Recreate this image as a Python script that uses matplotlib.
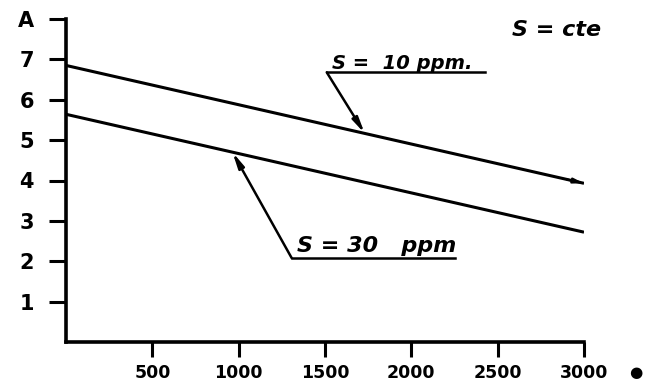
import numpy as np
import matplotlib.pyplot as plt

# data
theta = [0, 3000]
a_10ppm = [6.85, 3.93]
a_30ppm = [5.64, 2.72]
x_ticks = [500, 1000, 1500, 2000, 2500, 3000]
x_labels = ['500', '1000', '1500', '2000', '2500', '3000']
y_ticks = [1, 2, 3, 4, 5, 6, 7, 8]
y_labels = ['1', '2', '3', '4', '5', '6', '7', 'A']

plt.rcParams['font.family'] = ['DejaVu Sans']

fig = plt.figure(figsize=(6.63, 3.83), dpi=100)
ax = fig.add_axes([66 / 663, 41 / 383, 518 / 663, 323 / 383])

lw = 2.2
ax.plot(theta, a_10ppm, color='k', lw=lw, solid_capstyle='butt')
ax.plot(theta, a_30ppm, color='k', lw=lw, solid_capstyle='butt')

ax.set_xlim(0, 3000)
ax.set_ylim(0, 8)

for s in ['top', 'right']:
    ax.spines[s].set_visible(False)
for s in ['left', 'bottom']:
    ax.spines[s].set_linewidth(2.6)

ax.set_xticks(x_ticks)
ax.set_xticklabels(x_labels, fontsize=12.5, fontweight='heavy')
ax.set_yticks(y_ticks)
ax.set_yticklabels(y_labels, fontsize=15, fontweight='heavy')
ax.tick_params(axis='x', direction='out', length=11, width=2.2, pad=5)
ax.tick_params(axis='y', direction='out', length=12, width=2.2, pad=11)
# the short inner tick at 6
ax.set_yticks([6], minor=True)
ax.tick_params(axis='y', which='minor', direction='in', length=11, width=2.0)

# axis label at the end of the x axis
ax.text(1.10, -0.093, '●', transform=ax.transAxes, fontsize=11,
        ha='center', va='center')

# constant S note
ax.text(3100, 7.72, 'S = cte', fontsize=16, fontweight='bold',
        fontstyle='italic', ha='right', va='center')


def label(text, x0, x1, y, tip_x, line_y, size, dy):
    tip_y = np.interp(tip_x, theta, line_y)
    ax.text(x0 + 30, y + dy, text, fontsize=size, fontweight='bold',
            fontstyle='italic', ha='left', va='baseline')
    ax.plot([x0, x1], [y, y], color='k', lw=1.8)
    ax.annotate('', xy=(tip_x, tip_y), xytext=(x0, y),
                arrowprops=dict(arrowstyle='-|>,head_length=0.9,head_width=0.18',
                                color='k', lw=1.8, shrinkA=0, shrinkB=0))


label('S =  10 ppm.', 1510, 2427, 6.68, 1730, a_10ppm, 14, 0.08)
label('S = 30   ppm', 1307, 2253, 2.08, 964, a_30ppm, 16, 0.14)

# small arrow head at the end of the upper line
ax.annotate('', xy=(theta[1], a_10ppm[1]), xytext=(2900, np.interp(2900, theta, a_10ppm)),
            arrowprops=dict(arrowstyle='-|>,head_length=0.6,head_width=0.15',
                            color='k', lw=1.5, shrinkA=0, shrinkB=0))

fig.savefig('out.png', dpi=100, facecolor='white')
